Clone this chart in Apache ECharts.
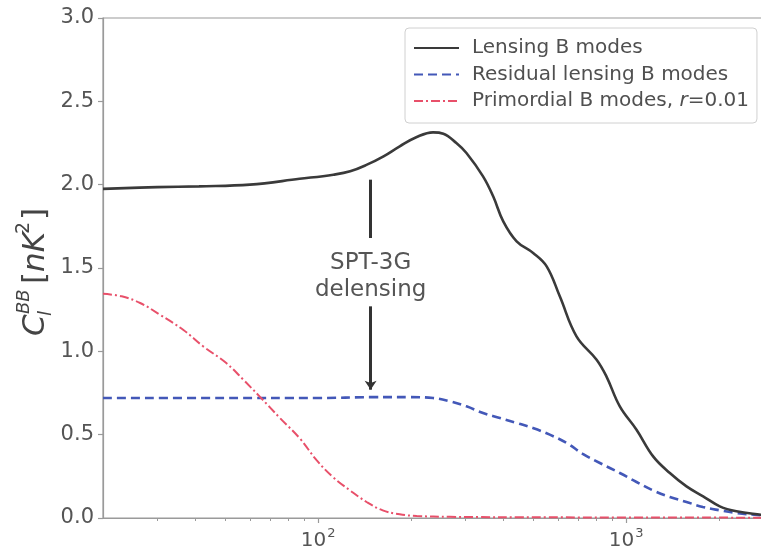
<!DOCTYPE html>
<html>
<head>
<meta charset="utf-8">
<script src="https://cdn.jsdelivr.net/npm/echarts@6/dist/echarts.min.js"></script>
<style>html,body{margin:0;padding:0;background:#fff;}#c{width:761px;height:547px;}</style>
</head>
<body>
<div id="c"></div>
<script>
// ---- data ----
var ellLens = [20, 30, 41, 60, 87, 112, 127, 144, 163, 184, 209, 236, 255, 281, 303, 343, 370, 399, 441, 499, 552, 609, 690, 802, 863, 954, 1081, 1224, 1387, 1571, 1779, 2015, 2282, 2737, 3000];
var lensing = [1.975, 1.985, 1.99, 2.0, 2.035, 2.06, 2.08, 2.12, 2.17, 2.23, 2.286, 2.314, 2.306, 2.25, 2.19, 2.05, 1.93, 1.78, 1.66, 1.59, 1.51, 1.33, 1.09, 0.95, 0.85, 0.67, 0.53, 0.37, 0.27, 0.19, 0.13, 0.07, 0.04, 0.02, 0.012];

var ellRes = [20, 50, 100, 150, 200, 236, 268, 303, 343, 389, 441, 498, 565, 641, 723, 822, 954, 1081, 1222, 1387, 1571, 1775, 2015, 2282, 2737, 3000];
var residual = [0.72, 0.72, 0.72, 0.725, 0.725, 0.72, 0.70, 0.67, 0.63, 0.60, 0.57, 0.54, 0.50, 0.45, 0.385, 0.33, 0.27, 0.216, 0.166, 0.126, 0.096, 0.066, 0.046, 0.03, 0.016, 0.012];

var ellPrim = [20, 23, 26.4, 30.6, 36.5, 42.3, 50.4, 57.1, 64.7, 75.1, 87.2, 98.8, 111.6, 126.8, 143.6, 162, 184, 209, 268, 565, 3000];
var primordial = [1.345, 1.33, 1.29, 1.22, 1.128, 1.03, 0.928, 0.83, 0.727, 0.60, 0.477, 0.347, 0.246, 0.166, 0.096, 0.046, 0.022, 0.012, 0.007, 0.004, 0.002];

var seriesNames = ['Lensing B modes', 'Residual lensing B modes', 'Primordial B modes, r=0.01'];
var majorTicks = [100, 1000];
var minorTicks = [30, 40, 50, 60, 70, 80, 90, 200, 300, 400, 500, 600, 700, 800, 900, 2000];
var arrowEll = 148;
var arrowUpper = [2.03, 1.68];
var arrowLower = [1.27, 0.77];
var annotationText = 'SPT-3G\ndelensing';
var annotationY = 1.45;

function pairs(xs, ys) { return xs.map(function (x, i) { return [x, ys[i]]; }); }

var chart = echarts.init(document.getElementById('c'), null, {renderer: 'canvas'});
var font = 'DejaVu Sans';
var option = {
  animation: false,
  backgroundColor: '#fff',
  textStyle: {fontFamily: font},
  grid: {left: 103, top: 18, right: -12, bottom: 29, containLabel: false, outerBoundsMode: 'none',
         show: true, borderColor: '#9a9a9a', borderWidth: 1.2, backgroundColor: 'transparent'},
  legend: {
    orient: 'vertical', left: 405, top: 28, padding: [10, 8, 12, 8],
    itemWidth: 45, itemHeight: 20, itemGap: 6.5,
    backgroundColor: '#fff', borderColor: '#d0d0d0', borderWidth: 1, borderRadius: 4,
    itemStyle: {opacity: 0},
    textStyle: {fontSize: 20, color: '#505050', fontFamily: font, padding: [0, 0, 0, 8]},
    formatter: function (n) {
      if (n === seriesNames[2]) return 'Primordial B modes, {i|r}=0.01';
      return n;
    },
    data: seriesNames
  },
  xAxis: [{
    type: 'log', logBase: 10, min: 20, max: 3000, position: 'bottom',
    axisLine: {show: true, lineStyle: {color: '#9a9a9a', width: 1.2}},
    axisTick: {show: true, customValues: majorTicks, length: 5, lineStyle: {color: '#9a9a9a', width: 1.2}},
    splitLine: {show: false},
    axisLabel: {
      customValues: majorTicks, margin: 9, color: '#555',
      formatter: function (v) { return '{a|10}{b|' + Math.round(Math.log10(v)) + '}'; },
      rich: {a: {fontSize: 20, color: '#555', fontFamily: font, lineHeight: 24, verticalAlign: 'bottom'},
             b: {fontSize: 13, color: '#555', fontFamily: font, lineHeight: 24, verticalAlign: 'top', padding: [0, 0, 0, 1]}}
    }
  }, {
    type: 'log', logBase: 10, min: 20, max: 3000, position: 'bottom', offset: 0,
    axisLine: {show: false},
    axisTick: {show: true, customValues: minorTicks, length: 3, lineStyle: {color: '#9a9a9a', width: 1}},
    axisLabel: {show: false},
    splitLine: {show: false}
  }],
  yAxis: {
    type: 'value', min: 0, max: 3, interval: 0.5,
    axisLine: {show: true, lineStyle: {color: '#9a9a9a', width: 1.2}},
    axisTick: {show: true, length: 5, lineStyle: {color: '#9a9a9a', width: 1.2}},
    splitLine: {show: false},
    axisLabel: {fontSize: 21, color: '#555', margin: 9, fontFamily: font,
      formatter: function (v) { return v.toFixed(1); }}
  },
  series: [{
    name: seriesNames[0], type: 'line', xAxisIndex: 0, data: pairs(ellLens, lensing),
    showSymbol: false, symbol: 'none', smooth: 0.4,
    lineStyle: {color: '#3a3a3a', width: 2.6}, itemStyle: {color: '#3a3a3a'}, z: 3,
    markLine: {
      silent: true, animation: false, symbol: ['none', 'none'],
      lineStyle: {color: '#333', width: 3, type: 'solid'}, label: {show: false},
      data: [[{coord: [arrowEll, arrowUpper[0]]}, {coord: [arrowEll, arrowUpper[1]]}],
             [{coord: [arrowEll, arrowLower[0]], symbol: 'none'}, {coord: [arrowEll, arrowLower[1]], symbol: 'arrow', symbolSize: [9, 9]}]]
    },
    markPoint: {
      silent: true, symbol: 'circle', symbolSize: 0,
      data: [{coord: [arrowEll, annotationY], value: 0}],
      label: {show: true, position: 'inside', formatter: annotationText, fontSize: 23, lineHeight: 27, color: '#555', fontFamily: font, align: 'center'}
    }
  }, {
    name: seriesNames[1], type: 'line', xAxisIndex: 0, data: pairs(ellRes, residual),
    showSymbol: false, symbol: 'none', smooth: 0.4,
    lineStyle: {color: '#4358b8', width: 2.6, type: [9, 5]}, itemStyle: {color: '#4358b8'}, z: 2
  }, {
    name: seriesNames[2], type: 'line', xAxisIndex: 0, data: pairs(ellPrim, primordial),
    showSymbol: false, symbol: 'none', smooth: 0.4,
    lineStyle: {color: '#e8506a', width: 2, type: [9, 3, 2, 3]}, itemStyle: {color: '#e8506a'}, z: 2
  }],
  graphic: [{
    type: 'group', x: 36, y: 336, rotation: Math.PI / 2, silent: true,
    children: [
      {type: 'text', x: 0, y: 0, style: {text: 'C', font: 'italic 31px "DejaVu Sans"', fill: '#444', verticalAlign: 'middle', align: 'left'}},
      {type: 'text', x: 22, y: -12, style: {text: 'BB', font: 'italic 18px "DejaVu Sans"', fill: '#444', verticalAlign: 'middle', align: 'left'}},
      {type: 'text', x: 20, y: 10, style: {text: 'l', font: 'italic 18px "DejaVu Sans"', fill: '#444', verticalAlign: 'middle', align: 'left'}},
      {type: 'text', x: 52, y: 0, style: {text: '[', font: '31px "DejaVu Sans"', fill: '#444', verticalAlign: 'middle', align: 'left'}},
      {type: 'text', x: 64, y: 0, style: {text: 'nK', font: 'italic 31px "DejaVu Sans"', fill: '#444', verticalAlign: 'middle', align: 'left'}},
      {type: 'text', x: 102, y: -12, style: {text: '2', font: '19px "DejaVu Sans"', fill: '#444', verticalAlign: 'middle', align: 'left'}},
      {type: 'text', x: 116, y: 0, style: {text: ']', font: '31px "DejaVu Sans"', fill: '#444', verticalAlign: 'middle', align: 'left'}}
    ]
  }]
};
option.legend.textStyle.rich = {i: {fontStyle: 'italic', fontSize: 20, color: '#505050', fontFamily: font}};
chart.setOption(option);
</script>
</body>
</html>
